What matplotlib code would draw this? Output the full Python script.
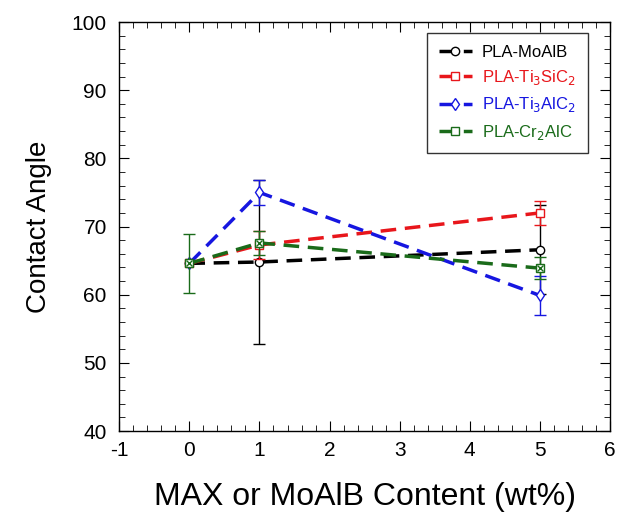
import matplotlib.pyplot as plt
from matplotlib.ticker import MultipleLocator

plt.rcParams['font.family'] = ['Liberation Sans', 'DejaVu Sans']
plt.rcParams['axes.unicode_minus'] = False

x = [0, 1, 5]
moalb = [64.6, 64.8, 66.6]
moalb_err = [4.3, 12.0, 6.5]
tisic = [64.6, 67.3, 72.0]
tisic_err = [4.3, 2.0, 1.8]
tialc = [64.6, 75.0, 59.9]
tialc_err = [4.3, 1.8, 2.8]
cralc = [64.6, 67.6, 63.9]
cralc_err = [4.3, 1.8, 1.6]

labels = ['PLA-MoAlB', 'PLA-Ti$_3$SiC$_2$', 'PLA-Ti$_3$AlC$_2$', 'PLA-Cr$_2$AlC']
colors = ['black', '#e8161b', '#1616e0', '#1a6b1a']
markers = ['o', 's', 'd', 's']

fig = plt.figure(figsize=(6.18, 5.12), dpi=100)
ax = fig.add_axes([0.193, 0.158, 0.794, 0.799])

series = [(moalb, moalb_err), (tisic, tisic_err), (tialc, tialc_err), (cralc, cralc_err)]

handles = []
for i, ((y, err), m, lab, c) in enumerate(zip(series, markers, labels, colors)):
    # the shared x=0 point only shows the Cr2AlC error bar
    every = 1 if i == 3 else (1, 1)
    ax.errorbar(x, y, yerr=err, fmt='none', ecolor=c, elinewidth=1, capsize=4,
                capthick=1, errorevery=every)
    ln, = ax.plot(x, y, color=c, lw=2.5, dashes=(4.5, 2.5), marker=m, ms=6,
                  mfc='white', mec=c, mew=1, label=lab)
    handles.append(ln)

# the Cr2AlC marker is a square with a cross in it
ax.plot(x, cralc, ls='none', marker='x', ms=5, mec=colors[3], mew=1)

leg = ax.legend(handles=handles, loc='upper right', bbox_to_anchor=(0.955, 0.973),
                borderaxespad=0, fontsize=12, frameon=True, fancybox=False,
                edgecolor='black', handlelength=2.0, handletextpad=0.6,
                labelspacing=0.5, borderpad=0.7)
leg.get_frame().set_linewidth(1)
for t, c in zip(leg.get_texts(), colors):
    t.set_color(c)

ax.set_xlim(-1, 6)
ax.set_ylim(40, 100)
ax.xaxis.set_major_locator(MultipleLocator(1))
ax.xaxis.set_minor_locator(MultipleLocator(0.2))
ax.yaxis.set_major_locator(MultipleLocator(10))
ax.yaxis.set_minor_locator(MultipleLocator(2))
ax.tick_params(which='both', direction='in', top=True, right=True, labelsize=15)
ax.tick_params(which='major', length=7)
ax.tick_params(which='minor', length=4)
ax.tick_params(axis='y', which='major', pad=9)
ax.tick_params(axis='x', which='major', pad=7)
for s in ax.spines.values():
    s.set_linewidth(1)

ax.set_xlabel('MAX or MoAlB Content (wt%)', fontsize=23, labelpad=16)
ax.set_ylabel('Contact Angle', fontsize=20, labelpad=14)

fig.savefig('out.png', dpi=100)
